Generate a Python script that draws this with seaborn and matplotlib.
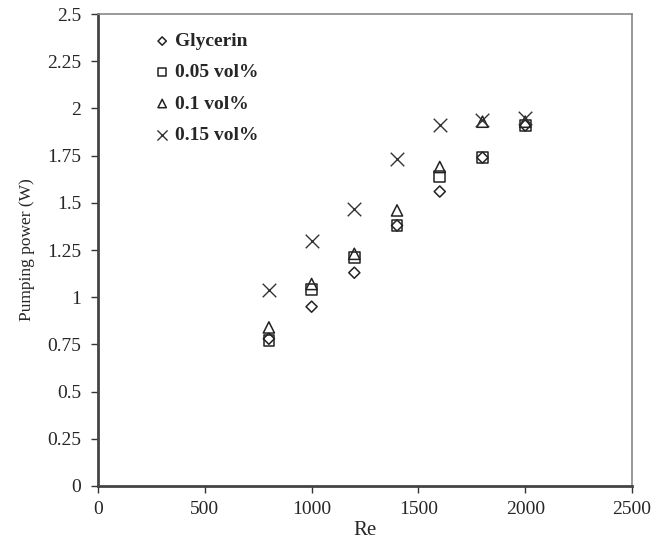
import matplotlib
matplotlib.use("Agg")
import matplotlib.pyplot as plt
import seaborn as sns
import pandas as pd

re_vals = [800, 1000, 1200, 1400, 1600, 1800, 2000]
glycerin = [0.78, 0.95, 1.13, 1.38, 1.56, 1.74, 1.91]
vol005 = [0.77, 1.04, 1.21, 1.38, 1.64, 1.74, 1.91]
vol01 = [0.84, 1.07, 1.23, 1.46, 1.69, 1.93, 1.93]
vol015 = [1.04, 1.30, 1.47, 1.73, 1.91, 1.94, 1.95]
series_names = ["Glycerin", "0.05 vol%", "0.1 vol%", "0.15 vol%"]
x_ticks = [0, 500, 1000, 1500, 2000, 2500]
y_ticks = [0, 0.25, 0.5, 0.75, 1, 1.25, 1.5, 1.75, 2, 2.25, 2.5]
y_tick_labels = ["0", "0.25", "0.5", "0.75", "1", "1.25", "1.5", "1.75", "2", "2.25", "2.5"]

sns.set_style("white")
plt.rcParams["font.family"] = ["Liberation Serif", "DejaVu Serif"]

fig = plt.figure(figsize=(6.56, 5.43), dpi=100)
ax = fig.add_axes([0.1494, 0.105, 0.814, 0.869])

markers = {"Glycerin": "D", "0.05 vol%": "s", "0.1 vol%": "^", "0.15 vol%": "x"}
sizes = {"Glycerin": 32, "0.05 vol%": 60, "0.1 vol%": 65, "0.15 vol%": 95}
data = {"Glycerin": glycerin, "0.05 vol%": vol005, "0.1 vol%": vol01, "0.15 vol%": vol015}

for name in series_names:
    df = pd.DataFrame({"Re": re_vals, "P": data[name]})
    if markers[name] == "x":
        sns.scatterplot(data=df, x="Re", y="P", marker="x", s=sizes[name],
                        color="#333333", linewidth=1.0, ax=ax, label=name)
    else:
        sns.scatterplot(data=df, x="Re", y="P", marker=markers[name], s=sizes[name],
                        facecolors="none", edgecolor="#222222", linewidth=1.1,
                        ax=ax, label=name)

ax.set_xlim(0, 2500)
ax.set_ylim(0, 2.5)
ax.set_xticks(x_ticks)
ax.set_yticks(y_ticks)
ax.set_yticklabels(y_tick_labels)
ax.set_xlabel("Re", fontsize=15, labelpad=2)
ax.set_ylabel("Pumping power (W)", fontsize=12.5, labelpad=9)
ax.tick_params(axis="both", labelsize=14, direction="out", length=5, width=1,
               color="#333333", bottom=True, left=True)
ax.tick_params(axis="y", pad=7)
ax.tick_params(axis="x", pad=6)

for side in ["left", "bottom"]:
    ax.spines[side].set_color("#444444")
    ax.spines[side].set_linewidth(2)
for side in ["top", "right"]:
    ax.spines[side].set_color("#888888")
    ax.spines[side].set_linewidth(1.2)
    ax.spines[side].set_visible(True)

leg = ax.legend(loc="upper left", bbox_to_anchor=(0.071, 0.998), frameon=False,
                prop={"family": ["Liberation Serif"], "weight": "bold", "size": 14},
                handletextpad=0.2, labelspacing=0.7, handlelength=0.9, markerscale=0.75)

fig.savefig("out.png", dpi=100)
